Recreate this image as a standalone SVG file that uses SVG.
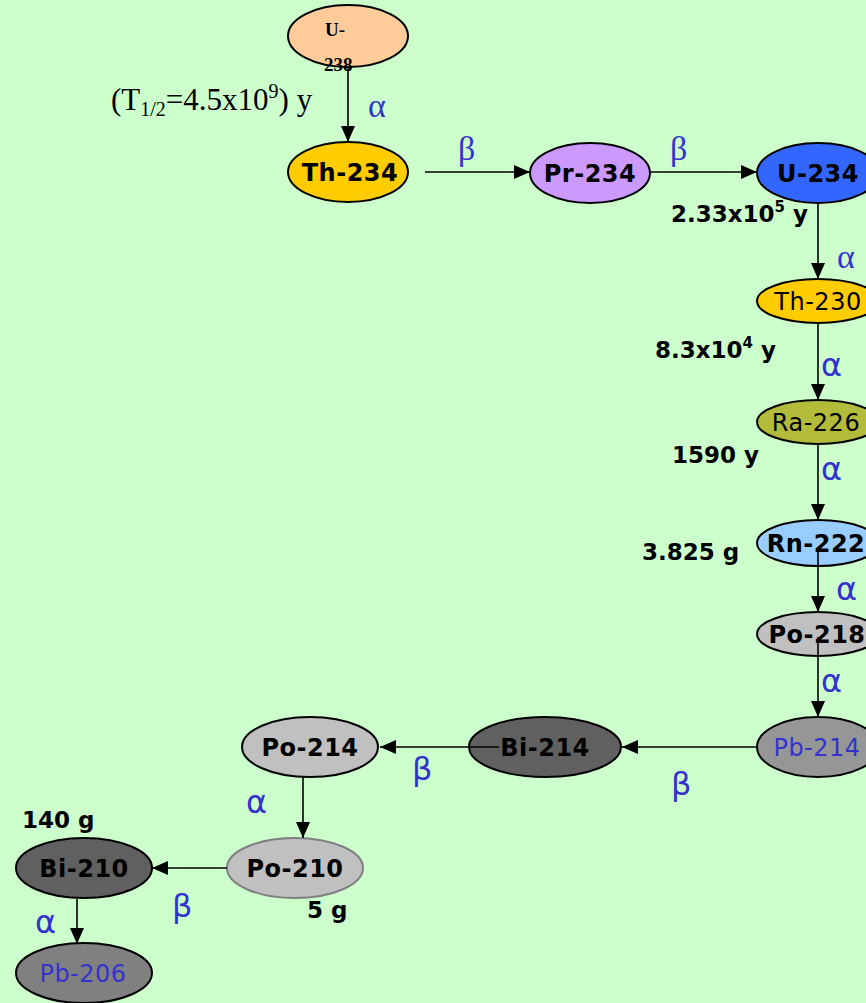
<svg xmlns="http://www.w3.org/2000/svg" width="866" height="1003" viewBox="0 0 866 1003">
  <style>
    .node { stroke: #000; stroke-width: 2; }
    .lbl { font-family: "DejaVu Sans", "Liberation Sans", sans-serif; font-size: 24px; letter-spacing: 0.5px; text-anchor: middle; }
    .b { font-weight: bold; }
    .half { font-family: "DejaVu Sans", "Liberation Sans", sans-serif; font-size: 23px; font-weight: bold; fill: #000; }
    .gs { font-family: "Liberation Serif", "DejaVu Serif", serif; font-size: 34px; fill: #3333CC; }
    .gc { font-family: "DejaVu Sans", "Liberation Sans", sans-serif; font-size: 32px; fill: #3333CC; }
    .edge { stroke: #000; stroke-width: 1.6; fill: none; marker-end: url(#arrow); }
  </style>
  <defs>
    <marker id="arrow" markerUnits="userSpaceOnUse" markerWidth="16" markerHeight="14" viewBox="0 0 16 14" refX="16" refY="7" orient="auto">
      <path d="M0,0 L16,7 L0,14 Z" fill="#000"/>
    </marker>
  </defs>

  <rect width="866" height="1003" fill="#CCFFCC"/>

  <g id="n-u238">
    <ellipse class="node" cx="348" cy="36" rx="60" ry="31" fill="#FFCC99"/>
    <text x="325" y="36" font-family="Liberation Serif, serif" font-size="19" font-weight="bold">U-</text>
    <text x="324" y="71" font-family="Liberation Serif, serif" font-size="19" font-weight="bold">238</text>
  </g>
  <text x="111" y="110" font-family="Liberation Serif, serif" font-size="31">(T<tspan font-size="20" dy="6">1/2</tspan><tspan dy="-6">=4.5x10</tspan><tspan font-size="20" dy="-12">9</tspan><tspan dy="12">) y</tspan></text>

  <g id="n-th234">
    <ellipse class="node" cx="348" cy="172" rx="60" ry="30" fill="#FFCC00"/>
    <text class="lbl b" x="350" y="181">Th-234</text>
  </g>
  <g id="n-pr234">
    <ellipse class="node" cx="590" cy="173" rx="60" ry="30" fill="#CC99FF"/>
    <text class="lbl b" x="590" y="182">Pr-234</text>
  </g>
  <g id="n-u234">
    <ellipse class="node" cx="818" cy="173" rx="61" ry="30" fill="#3366FF"/>
    <text class="lbl b" x="818" y="182">U-234</text>
  </g>
  <g id="n-th230">
    <ellipse class="node" cx="818" cy="301" rx="61" ry="22" fill="#FFCC00"/>
    <text class="lbl" x="818" y="310">Th-230</text>
  </g>
  <g id="n-ra226">
    <ellipse class="node" cx="818" cy="422" rx="61" ry="22" fill="#B2BB3A"/>
    <text class="lbl" x="816" y="431">Ra-226</text>
  </g>
  <g id="n-rn222">
    <ellipse class="node" cx="818" cy="543" rx="61" ry="23" fill="#99CCFF"/>
    <text class="lbl b" x="816" y="552">Rn-222</text>
  </g>
  <g id="n-po218">
    <ellipse class="node" cx="818" cy="634" rx="61" ry="22" fill="#C0C0C0"/>
    <text class="lbl b" x="817" y="643">Po-218</text>
  </g>
  <g id="n-pb214">
    <ellipse class="node" cx="818" cy="747" rx="61" ry="30" fill="#969696"/>
    <text class="lbl" x="817" y="756" fill="#3333CC">Pb-214</text>
  </g>
  <g id="n-bi214">
    <ellipse class="node" cx="545" cy="747" rx="76" ry="30" fill="#606060"/>
    <text class="lbl b" x="545" y="756">Bi-214</text>
  </g>
  <g id="n-po214">
    <ellipse class="node" cx="310" cy="747" rx="68" ry="30" fill="#C0C0C0"/>
    <text class="lbl b" x="310" y="756">Po-214</text>
  </g>
  <g id="n-po210">
    <ellipse cx="295" cy="868" rx="68" ry="30" fill="#C0C0C0" stroke="#808080" stroke-width="2"/>
    <text class="lbl b" x="295" y="877">Po-210</text>
  </g>
  <g id="n-bi210">
    <ellipse class="node" cx="84" cy="868" rx="68" ry="30" fill="#606060"/>
    <text class="lbl b" x="84" y="877">Bi-210</text>
  </g>
  <g id="n-pb206">
    <ellipse class="node" cx="84" cy="973" rx="68" ry="30" fill="#808080"/>
    <text class="lbl" x="83" y="982" fill="#3333CC">Pb-206</text>
  </g>

  <!-- decay connectors, drawn over the nodes they start inside -->
  <g id="connectors">
    <line class="edge" x1="348" y1="67" x2="348" y2="142"/>
    <line class="edge" x1="425" y1="172" x2="530" y2="172"/>
    <line class="edge" x1="651" y1="172" x2="757" y2="172"/>
    <line class="edge" x1="818" y1="203" x2="818" y2="279"/>
    <line class="edge" x1="818" y1="324" x2="818" y2="400"/>
    <line class="edge" x1="818" y1="445" x2="818" y2="520"/>
    <line class="edge" x1="818" y1="552" x2="818" y2="612"/>
    <line class="edge" x1="818" y1="637" x2="818" y2="717"/>
    <line class="edge" x1="757" y1="747" x2="622" y2="747"/>
    <line class="edge" x1="499" y1="747" x2="380" y2="747"/>
    <line class="edge" x1="303" y1="777" x2="303" y2="838"/>
    <line class="edge" x1="227" y1="868" x2="152" y2="868"/>
    <line class="edge" x1="77" y1="899" x2="77" y2="944"/>
  </g>

  <!-- decay mode labels -->
  <g id="modes">
    <text class="gs" x="368" y="117">α</text>
    <text class="gs" x="458" y="160">β</text>
    <text class="gs" x="670" y="160">β</text>
    <text class="gs" x="837" y="268">α</text>
    <text class="gc" x="821" y="376">α</text>
    <text class="gc" x="821" y="480">α</text>
    <text class="gc" x="836" y="600">α</text>
    <text class="gc" x="821" y="692">α</text>
    <text class="gc" x="671" y="795">β</text>
    <text class="gc" x="412" y="780">β</text>
    <text class="gc" x="246" y="813">α</text>
    <text class="gc" x="172" y="917">β</text>
    <text class="gc" x="35" y="933">α</text>
  </g>

  <!-- half-lives -->
  <g id="halflives">
    <text class="half" x="671" y="222">2.33x10<tspan font-size="15" dy="-10">5</tspan><tspan dy="10"> y</tspan></text>
    <text class="half" x="655" y="358">8.3x10<tspan font-size="15" dy="-10">4</tspan><tspan dy="10"> y</tspan></text>
    <text class="half" x="672" y="463">1590 y</text>
    <text class="half" x="642" y="560">3.825 g</text>
    <text class="half" x="22" y="828">140 g</text>
    <text class="half" x="307" y="918">5 g</text>
  </g>
</svg>
